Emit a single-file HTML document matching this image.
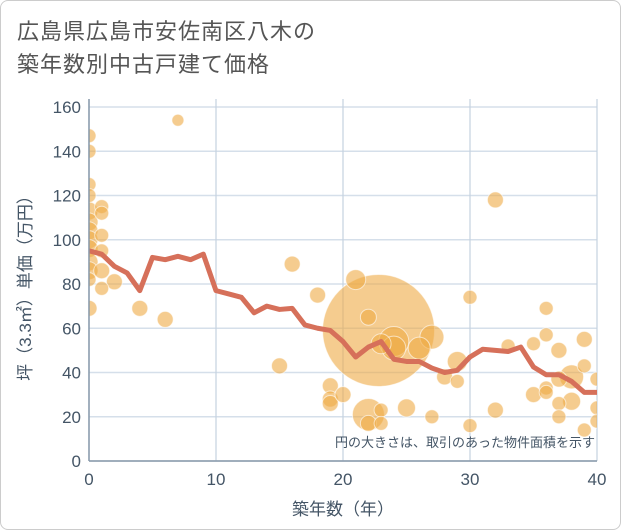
<!DOCTYPE html>
<html><head><meta charset="utf-8"><style>
body{margin:0;background:#fff;}
.wrap{width:619px;height:528px;border:1px solid #ccc;border-radius:8px;position:relative;overflow:hidden;background:#fff;font-family:"Liberation Sans","Noto Sans CJK JP",sans-serif;}
.title{position:absolute;left:16px;top:14px;font-size:22px;line-height:33px;color:#555;letter-spacing:1px;}
</style></head><body>
<div class="wrap">
<div class="title">広島県広島市安佐南区八木の<br>築年数別中古戸建て価格</div>
<svg id="c" width="621" height="530" style="position:absolute;left:0;top:0"><defs><clipPath id="pc"><rect x="88" y="98" width="508" height="362"/></clipPath></defs></svg>
</div>
<script>
const xTicks=[0,10,20,30,40];
const yTicks=[0,20,40,60,80,100,120,140,160];
const lineYears=[0,1,2,3,4,5,6,7,8,9,10,11,12,13,14,15,16,17,18,19,20,21,22,23,24,25,26,27,28,29,30,31,32,33,34,35,36,37,38,39,40];
const lineValues=[95,93.5,88,85,77,92,91,92.5,91,93.5,77,75.5,74,67,70,68.5,69,61.5,60,59,54,47,51.5,54,46,45,45,42,40,41,47,50.5,50,49.5,51.5,42.5,39,39,36,31,31];
const bubbleYears=[0,0,0,0,0,0,0,0,0,0,0,0,0,1,1,1,1,1,1,2,4,6,7,16,15,18,19,19,19,20,21,22,22,22,23,23,23,24,24,25,26,27,27,28,29,29,30,30,32,32,33,35,35,36,36,36,36,37,37,37,37,38,38,39,39,39,40,40,40,22.8];
const bubbleValues=[147,140,125,120,113,108,104,100,96,90,86,82,69,115,112,102,95,86,78,81,69,64,154,89,43,75,34,28,26,30,82,65,21,17,23,17,53,54,51,24,51,56,20,38,45,36,74,16,118,23,52,30,53,69,57,33,31,50,37,26,20,38,27,55,43,14,37,24,18,59];
const bubbleSizes=[7,7,7,7,9,9,9,9,9,9,9,7,8,7,7,7,7,8,7,8,8,8,6,8,8,8,8,8,8,8,10,8,16,8,7,7,10,15,12,9,11,12,7,8,10,7,7,7,8,8,7,8,7,7,7,7,7,8,8,7,7,12,9,8,7,7,7,7,7,56];
const svg=document.getElementById('c');const NS='http://www.w3.org/2000/svg';
const X0=88,X1=596,Y0=460,Y1=106;
const sx=v=>X0+(X1-X0)*v/40, sy=v=>Y0-(Y0-Y1)*v/160;
function mk(t,a,par){const e=document.createElementNS(NS,t);for(const k in a)e.setAttribute(k,a[k]);(par||svg).appendChild(e);return e;}
yTicks.forEach(v=>{const g=mk('line',{x1:X0,x2:X1,y1:sy(v),y2:sy(v),stroke:'#d5dfea','stroke-width':1.5});

const t=mk('text',{x:X0-8,y:sy(v)+6,'text-anchor':'end','font-size':17,fill:'#445566'});t.textContent=v;
});
xTicks.forEach(v=>{const g=mk('line',{x1:sx(v),x2:sx(v),y1:Y1-8,y2:Y0,stroke:'#c5d2e0','stroke-width':1.2});

const t=mk('text',{x:sx(v),y:Y0+24,'text-anchor':'middle','font-size':17,fill:'#445566'});t.textContent=v;
});
const gr=mk('g',{'clip-path':'url(#pc)'});

const order=bubbleYears.map((_,i)=>i).sort((a,b)=>bubbleSizes[b]-bubbleSizes[a]);
order.forEach(i=>{const c=mk('circle',{cx:sx(bubbleYears[i]),cy:sy(bubbleValues[i]),r:bubbleSizes[i],fill:'#eeaa44','fill-opacity':0.6,stroke:'#fff','stroke-opacity':0.6,'stroke-width':1},gr);
});
const p=mk('polyline',{points:lineYears.map((y,i)=>sx(y)+','+sy(lineValues[i])).join(' '),fill:'none',stroke:'#d6705a','stroke-width':5,'stroke-linejoin':'round'},gr);

const ax=mk('line',{x1:X0,x2:X0,y1:Y1-8,y2:Y0,stroke:'#8899aa','stroke-width':1.5});

const bx=mk('line',{x1:X0,x2:X1,y1:Y0,y2:Y0,stroke:'#8899aa','stroke-width':1.5});

const n=mk('text',{x:594,y:446,'text-anchor':'end','font-size':13,fill:'#445566'});n.textContent='円の大きさは、取引のあった物件面積を示す';

const xt=mk('text',{x:342,y:514,'text-anchor':'middle','font-size':17,fill:'#445566'});xt.textContent='築年数（年）';

const yt=mk('text',{x:0,y:0,'text-anchor':'middle','font-size':17,fill:'#445566',transform:'translate(30,283) rotate(-90)'});yt.textContent='坪（3.3㎡）単価（万円）';

</script>
</body></html>
